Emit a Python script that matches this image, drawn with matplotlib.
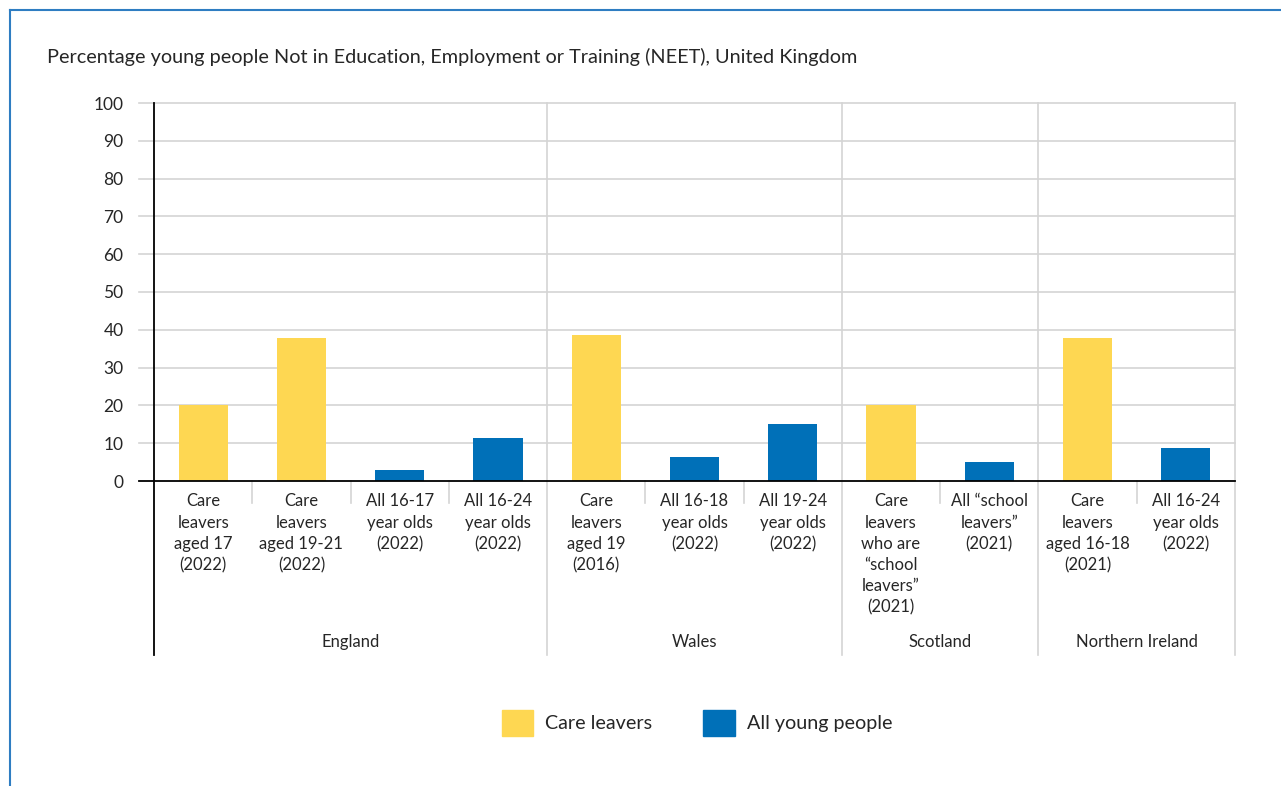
import matplotlib.pyplot as plt
from matplotlib.lines import Line2D
from matplotlib.patches import Patch

plt.rcParams["font.family"] = ["Lato", "DejaVu Sans"]

# data
categories = [
    "Care\nleavers\naged 17\n(2022)",
    "Care\nleavers\naged 19-21\n(2022)",
    "All 16-17\nyear olds\n(2022)",
    "All 16-24\nyear olds\n(2022)",
    "Care\nleavers\naged 19\n(2016)",
    "All 16-18\nyear olds\n(2022)",
    "All 19-24\nyear olds\n(2022)",
    "Care\nleavers\nwho are\n\u201cschool\nleavers\u201d\n(2021)",
    "All \u201cschool\nleavers\u201d\n(2021)",
    "Care\nleavers\naged 16-18\n(2021)",
    "All 16-24\nyear olds\n(2022)",
]
values = [20, 37.8, 2.9, 11.4, 38.6, 6.3, 15.1, 20, 5.0, 37.8, 8.7]
is_care_leaver = [True, True, False, False, True, False, False, True, False, True, False]
countries = ["England", "Wales", "Scotland", "Northern Ireland"]
country_sizes = [4, 3, 2, 2]
yticks = list(range(0, 101, 10))

YELLOW = "#FED752"
BLUE = "#0070B8"
GRID = "#D4D4D4"
TEXT = "#262626"

fig = plt.figure(figsize=(12.81, 7.86), dpi=100)
W, H = 1281, 786
ax = fig.add_axes([154 / W, (H - 481) / H, (1235 - 154) / W, (481 - 103) / H])

x = list(range(len(values)))
colors = [YELLOW if c else BLUE for c in is_care_leaver]
ax.bar(x, values, width=0.5, color=colors, zorder=3)

ax.set_xlim(-0.5, len(values) - 0.5)
ax.set_ylim(0, 100)
for s in ax.spines.values():
    s.set_visible(False)
ax.set_xticks([])
ax.set_yticks(yticks)
ax.tick_params(axis="y", length=0, pad=22, labelsize=12.5, labelcolor=TEXT)

# horizontal gridlines, slightly poking past the y axis
left_ext = -0.5 - 15 / 98.3
for t in yticks[1:]:
    ax.plot([left_ext, len(values) - 0.5], [t, t], color=GRID, lw=1.2,
            clip_on=False, zorder=1)
ax.plot([left_ext, len(values) - 0.5], [0, 0], color="black", lw=1.3,
        clip_on=False, zorder=4)

bottom = -46
ax.plot([-0.5, -0.5], [bottom, 100], color="black", lw=1.3, clip_on=False, zorder=4)

# country separators and in-group dividers
edges = []
pos = -0.5
for n in country_sizes:
    pos += n
    edges.append(pos)
for e in edges:
    ax.plot([e, e], [bottom, 100], color=GRID, lw=1.2, clip_on=False, zorder=1)
start = -0.5
for n in country_sizes:
    for k in range(1, n):
        ax.plot([start + k, start + k], [-5.8, 0], color=GRID, lw=1.2,
                clip_on=False, zorder=1)
    start += n

# category labels
for xi, lab in zip(x, categories):
    ax.text(xi, -3.3, lab, ha="center", va="top", fontsize=12, color=TEXT,
            linespacing=1.4, clip_on=False)

# country labels
start = -0.5
for name, n in zip(countries, country_sizes):
    ax.text(start + n / 2, -42.5, name, ha="center", va="center", fontsize=12,
            color=TEXT, clip_on=False)
    start += n

fig.text(47 / W, 1 - 57 / H, "Percentage young people Not in Education, Employment or Training (NEET), United Kingdom",
         ha="left", va="center", fontsize=14.3, color=TEXT)

handles = [Patch(color=YELLOW, label="Care leavers"),
           Patch(color=BLUE, label="All young people")]
fig.legend(handles=handles, loc="center", bbox_to_anchor=(697 / W, 1 - 723 / H),
           ncol=2, frameon=False, fontsize=14.2, handlelength=1.6, handleheight=1.6,
           handletextpad=0.6, columnspacing=2.6, labelcolor=TEXT)

# outer frame
frame = "#2E7DC2"
fig.add_artist(Line2D([10 / W, 1], [1 - 10 / H, 1 - 10 / H], color=frame, lw=1.5))
fig.add_artist(Line2D([10 / W, 10 / W], [0, 1 - 10 / H], color=frame, lw=1.5))

fig.savefig("out.png", dpi=100)
